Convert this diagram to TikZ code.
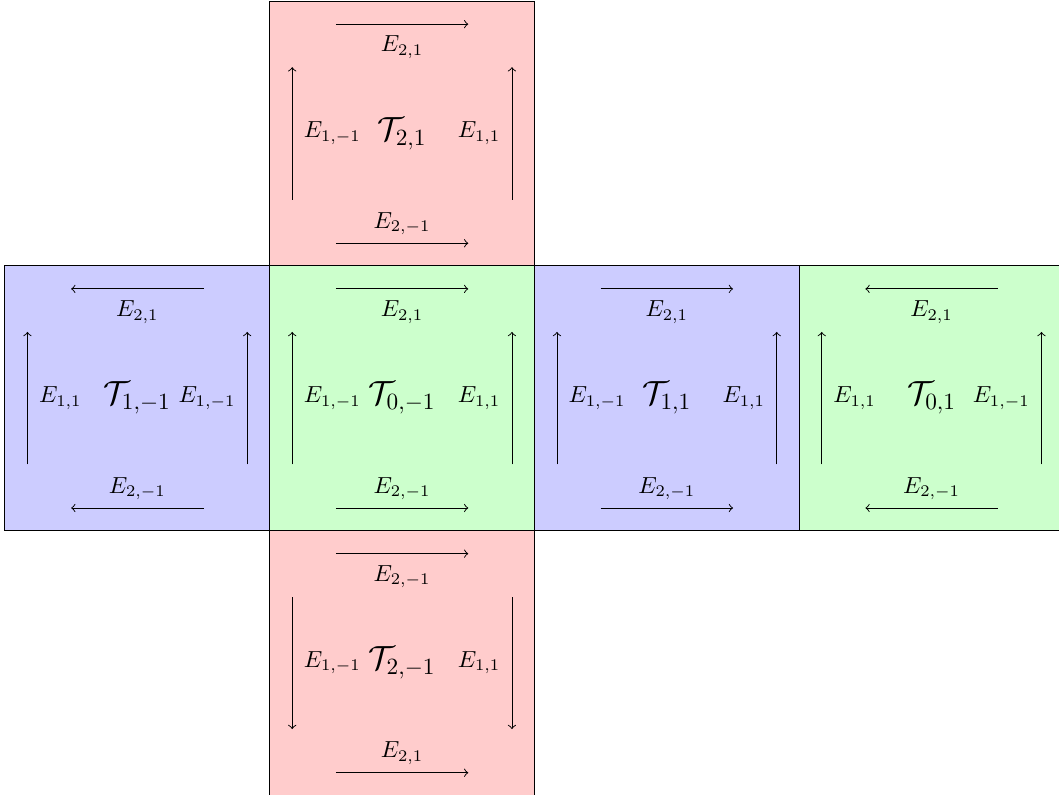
\documentclass[tikz,border=0pt]{standalone}
\newcommand{\cubeface}[7]{%
  \node[face] (sq) at (2,2) {};
  \node[big] (c) at (2,2) {$#1$};
  \coordinate (tl) at (1,3.65); \coordinate (tr) at (3,3.65);
  \coordinate (bl) at (1,0.34); \coordinate (br) at (3,0.34);
  \coordinate (lb) at (0.34,1); \coordinate (lt) at (0.34,3);
  \coordinate (rb) at (3.66,1); \coordinate (rt) at (3.66,3);
  \draw[#6] (tl) -- node[below=1.5pt] (tlab) {$#2$} (tr);
  \draw[#6] (bl) -- node[above] (blab) {$#3$} (br);
  \draw[#7] (lb) -- node[right=1.5pt] (llab) {$#4$} (lt);
  \draw[#7] (rb) -- node[left=1.5pt] (rlab) {$#5$} (rt);
}
\begin{document}
\begin{tikzpicture}[
  facefill/.style={},
  face/.style={draw=black, facefill, minimum size=4cm, inner sep=0pt, outer sep=0pt, line width=0.4pt},
  big/.style={font=\Large},
]
\useasboundingbox (0,0) rectangle (16,12);
\clip (0,0) rectangle (16,12);
\begin{scope}[shift={(4.075,7.985)}, name prefix=top-, facefill/.style={fill=red!20}]
  \cubeface{\mathcal{T}_{2,1}}{E_{2,1}}{E_{2,-1}}{E_{1,-1}}{E_{1,1}}{->}{->}
\end{scope}
\begin{scope}[shift={(0.075,3.985)}, name prefix=left-, facefill/.style={fill=blue!20}]
  \cubeface{\mathcal{T}_{1,-1}}{E_{2,1}}{E_{2,-1}}{E_{1,1}}{E_{1,-1}}{<-}{->}
\end{scope}
\begin{scope}[shift={(4.075,3.985)}, name prefix=mid-, facefill/.style={fill=green!20}]
  \cubeface{\mathcal{T}_{0,-1}}{E_{2,1}}{E_{2,-1}}{E_{1,-1}}{E_{1,1}}{->}{->}
\end{scope}
\begin{scope}[shift={(8.075,3.985)}, name prefix=right-, facefill/.style={fill=blue!20}]
  \cubeface{\mathcal{T}_{1,1}}{E_{2,1}}{E_{2,-1}}{E_{1,-1}}{E_{1,1}}{->}{->}
\end{scope}
\begin{scope}[shift={(12.075,3.985)}, name prefix=far-, facefill/.style={fill=green!20}]
  \cubeface{\mathcal{T}_{0,1}}{E_{2,1}}{E_{2,-1}}{E_{1,1}}{E_{1,-1}}{<-}{->}
\end{scope}
\begin{scope}[shift={(4.075,-0.015)}, name prefix=bot-, facefill/.style={fill=red!20}]
  \cubeface{\mathcal{T}_{2,-1}}{E_{2,-1}}{E_{2,1}}{E_{1,-1}}{E_{1,1}}{->}{<-}
\end{scope}
\end{tikzpicture}
\end{document}
